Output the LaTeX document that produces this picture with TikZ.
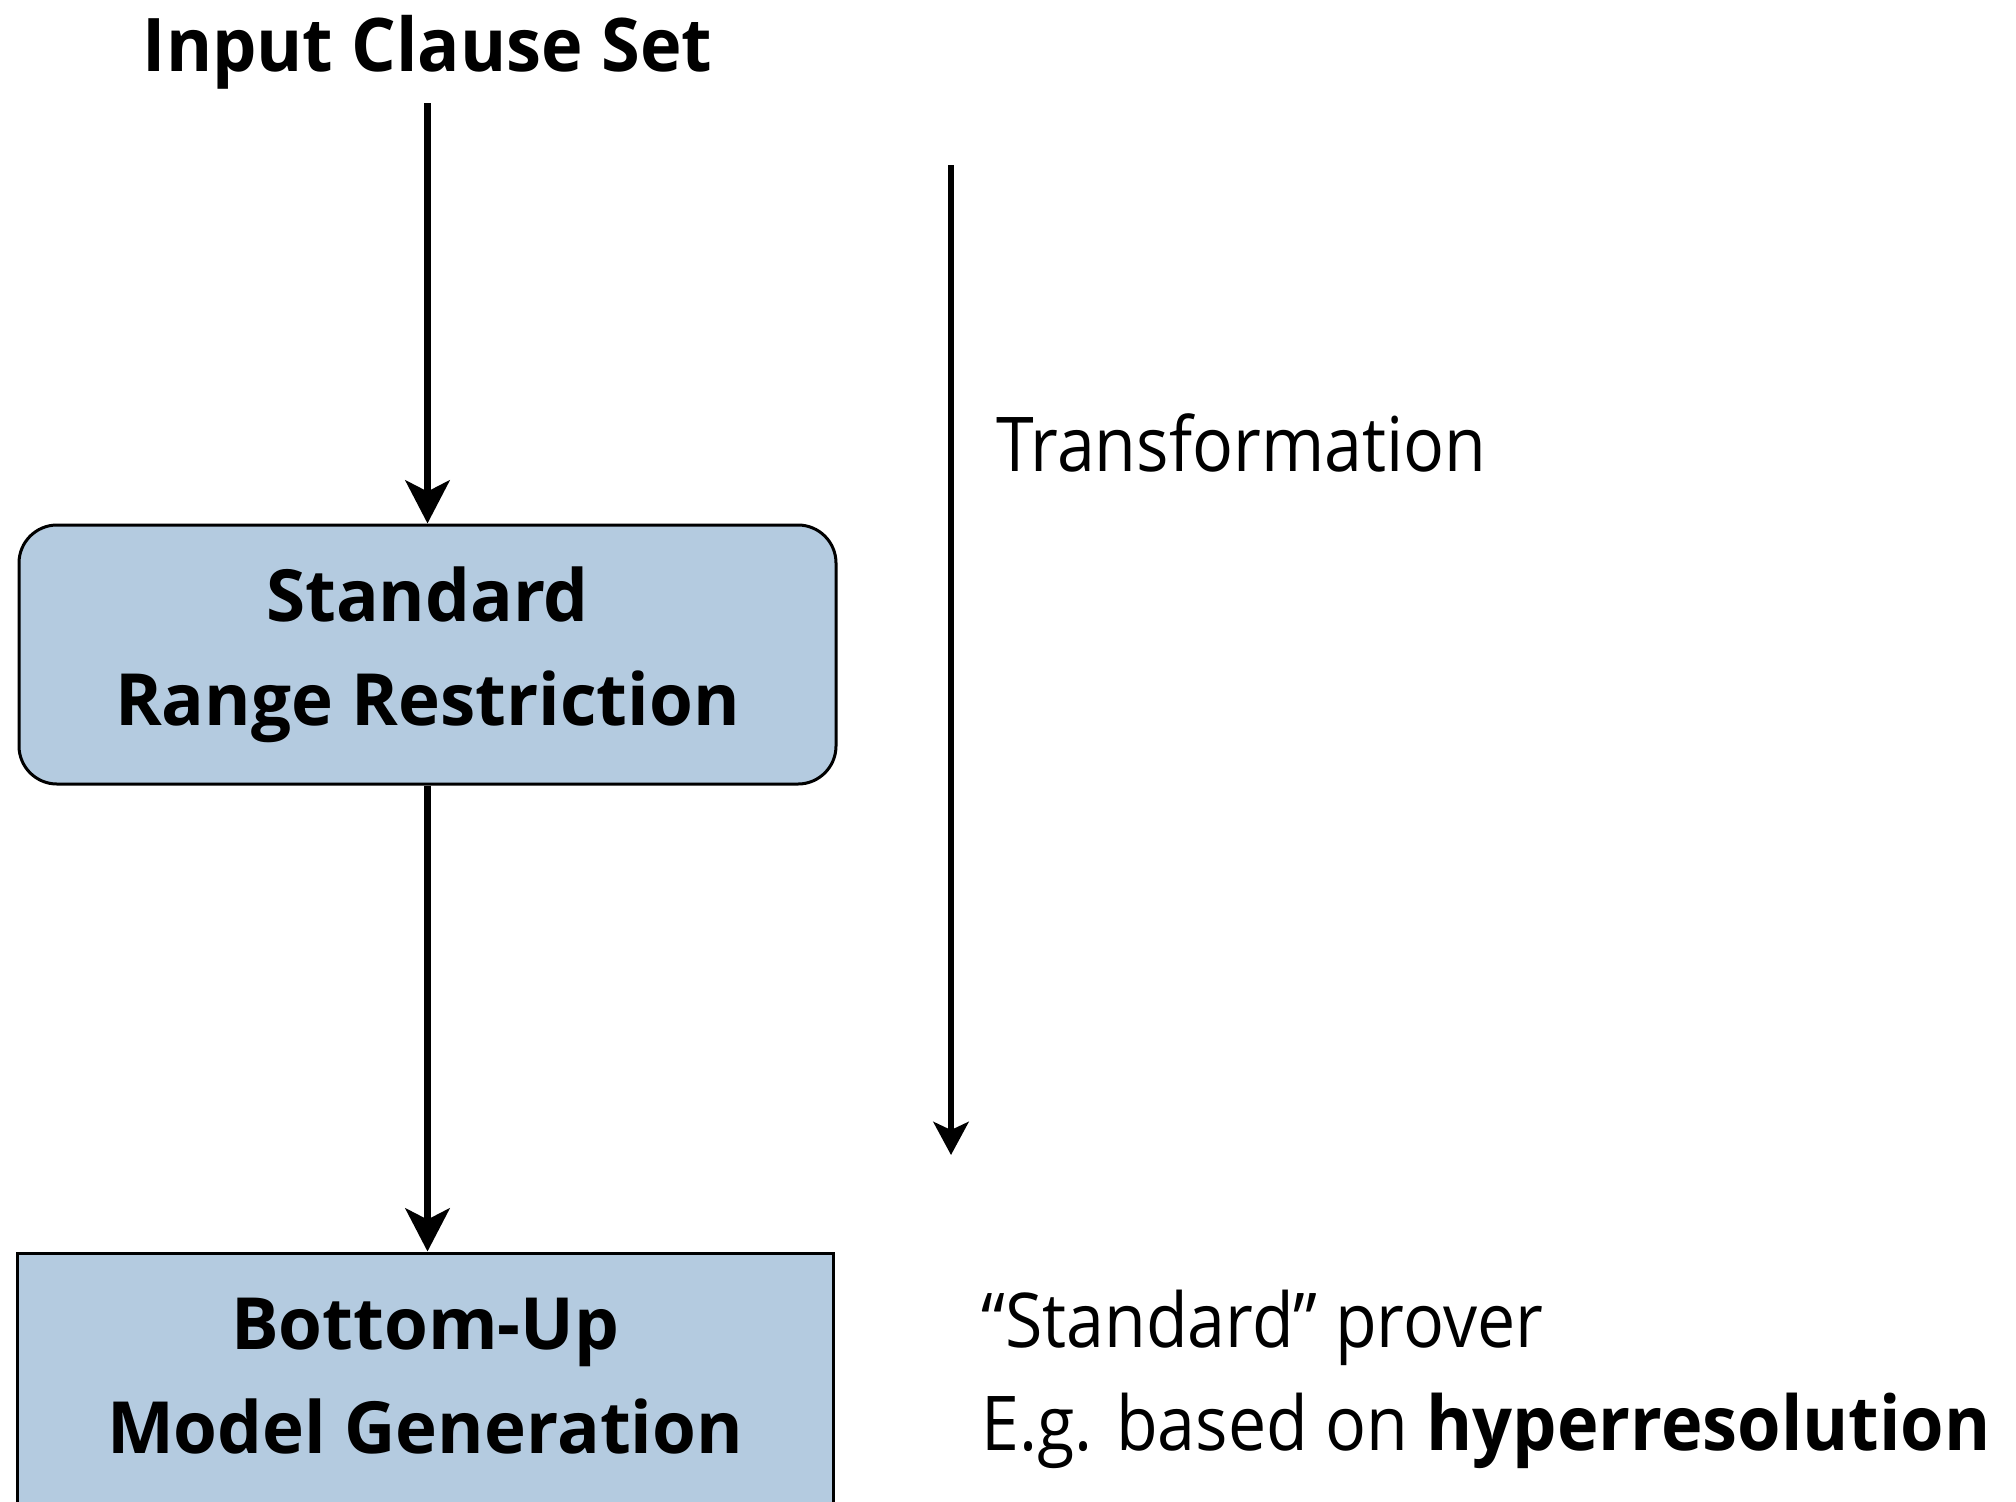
\documentclass[tikz,border=0pt]{standalone}
\usepackage{fontspec}
\setmainfont{Open Sans}[FakeStretch=0.9]
\newfontfamily\stagefont{Open Sans}[FakeStretch=0.985]
\newfontfamily\headfont{Open Sans}[FakeStretch=0.95]
\newfontfamily\strongfont{Open Sans}[FakeStretch=0.93]
\usetikzlibrary{arrows.meta}
\definecolor{boxblue}{RGB}{180,203,224}

\begin{document}
\begin{tikzpicture}[x=0.5pt,y=-0.5pt,
  stagebox/.style={draw=black, line width=1.5pt, fill=boxblue, inner sep=0pt},
  stagetext/.style={inner sep=0pt, align=center,
    font=\stagefont\bfseries\fontsize{36}{52}\selectfont},
  heading/.style={inner sep=0pt, font=\headfont\bfseries\fontsize{37}{44}\selectfont},
  plain/.style={inner sep=0pt, font=\fontsize{37.8}{44}\selectfont},
  flow/.style={line width=3.85pt, -{Stealth[length=21.5pt,width=22pt,inset=5.5pt]}},
  phase/.style={line width=3.3pt, -{Stealth[length=16.5pt,width=17.5pt,inset=4pt]}}]
  \useasboundingbox (0,0) rectangle (2016,1501);
  \clip (0,0) rectangle (2016,1501);

  % left column: the pipeline
  \node[heading, anchor=base] (input) at (427.5,71) {Input Clause Set};
  \coordinate (inTail) at (427.5,103);
  \node[stagebox, stagetext, rounded corners=19pt, minimum width=408.5pt, minimum height=129.5pt]
    (rr) at (427.5,654.5) {Standard\\Range Restriction};
  \node[stagebox, minimum width=408pt, minimum height=136pt] (bu) at (425,1389) {};
  \node[stagetext] (buText) at (425,1376) {Bottom-Up\\Model Generation};

  \draw[flow] (inTail) -- (rr.north);
  \draw[flow] (rr.south) -- (rr.south |- bu.north);

  % right column: the phases
  \coordinate (phTop) at (951,165);
  \coordinate (phEnd) at (951,1155);
  \draw[phase] (phTop) -- (phEnd);
  \node[plain, anchor=base west] (trans) at (996,471) {Transformation};
  \node[plain, anchor=base west] (prover) at (981,1347) {“Standard” prover};
  \node[plain, anchor=base west] (eg) at (981,1450) {E.g. based on {\strongfont\bfseries hyperresolution}};
\end{tikzpicture}
\end{document}
